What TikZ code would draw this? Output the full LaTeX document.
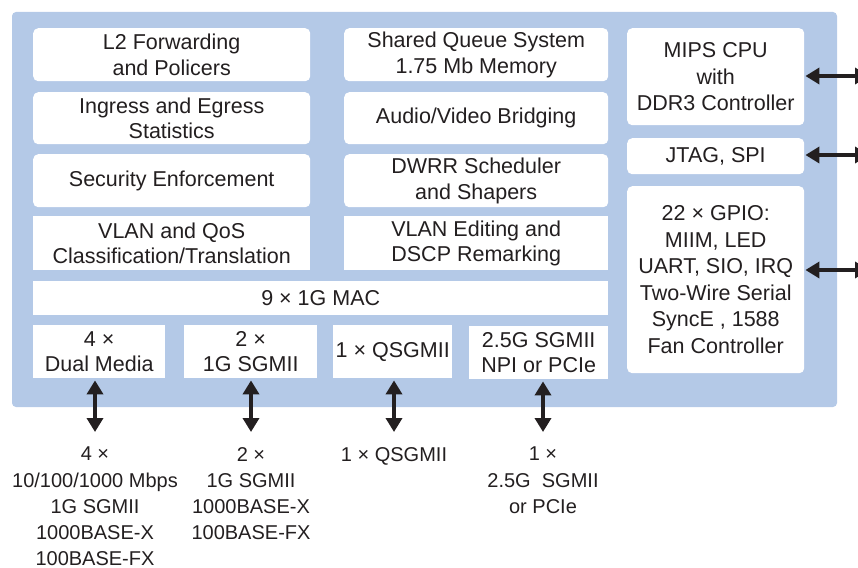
\documentclass[tikz,border=0pt]{standalone}
\usepackage{fontspec}
\setmainfont{Liberation Sans}
\usetikzlibrary{arrows.meta}
\definecolor{chipblue}{RGB}{180,201,231}
\definecolor{ink}{RGB}{35,31,32}
\begin{document}
\begin{tikzpicture}[x=1pt,y=-1pt,
  blk/.style={fill=white, inner sep=0pt, align=center, text=ink,
    font=\fontsize{21.5}{25.5}\selectfont, anchor=north west},
  rblk/.style={blk, rounded corners=5pt},
  cpublk/.style={rblk, font=\fontsize{21.5}{26.5}\selectfont},
  ext/.style={inner sep=0pt, align=center, text=ink,
    font=\fontsize{20}{26.2}\selectfont, anchor=north},
  bidir/.style={{Triangle[width=16pt,length=14pt]}-{Triangle[width=16pt,length=14pt]},
    line width=4.2pt, draw=ink}]
\useasboundingbox (0,0) rectangle (858,567);
\clip (0,0) rectangle (858,567);

% chip outline
\fill[chipblue, rounded corners=4pt] (12,12) rectangle (837,407);

% left column
\node[rblk, minimum width=277pt, minimum height=53pt] (l2)  at (33,28)  {L2 Forwarding\\and Policers};
\node[rblk, minimum width=277pt, minimum height=52pt] (ing) at (33,92)  {Ingress and Egress\\Statistics};
\node[rblk, minimum width=277pt, minimum height=53pt] (sec) at (33,154) {Security Enforcement};
\node[blk,  minimum width=277pt, minimum height=54pt] (vq)  at (33,216) {VLAN and QoS\\Classification/Translation};

% middle column
\node[rblk, minimum width=264pt, minimum height=53pt] (sq)  at (344,28)  {Shared Queue System\\1.75 Mb Memory};
\node[rblk, minimum width=264pt, minimum height=52pt] (avb) at (344,92)  {Audio/Video Bridging};
\node[rblk, minimum width=264pt, minimum height=53pt] (dw)  at (344,154) {DWRR Scheduler\\and Shapers};
\node[blk,  minimum width=264pt, minimum height=54pt] (ve)  at (344,216) {VLAN Editing and\\DSCP Remarking};

% MAC
\node[blk, minimum width=575pt, minimum height=34pt] (mac) at (33,281) {9 × 1G MAC};

% port blocks
\node[blk, minimum width=132pt, minimum height=53pt] (dm)  at (33,325)  {4 ×\\Dual Media};
\node[blk, minimum width=133pt, minimum height=53pt] (sg)  at (184,325) {2 ×\\1G SGMII};
\node[blk, minimum width=119pt, minimum height=53pt] (qs)  at (333,325) {1 × QSGMII};
\node[blk, minimum width=139pt, minimum height=53pt] (npi) at (469,326) {2.5G SGMII\\NPI or PCIe};

% right column
\node[cpublk, minimum width=177pt, minimum height=97pt]  (mips) at (627,28)  {MIPS CPU\\with\\DDR3 Controller};
\node[cpublk, minimum width=177pt, minimum height=36pt]  (jtag) at (627,138) {JTAG, SPI};
\node[cpublk, minimum width=177pt, minimum height=187pt] (gpio) at (627,186) {22 × GPIO:\\MIIM, LED\\UART, SIO, IRQ\\Two-Wire Serial\\SyncE , 1588\\Fan Controller};

% external interface labels
\node[ext] (dmt)  at (95,447)  {4 ×\\10/100/1000 Mbps\\1G SGMII\\1000BASE-X\\100BASE-FX};
\node[ext] (sgt)  at (251,447) {2 ×\\1G SGMII\\1000BASE-X\\100BASE-FX};
\node[ext] (qst)  at (394,447) {1 × QSGMII};
\node[ext] (npit) at (543,447) {1 ×\\2.5G\ \ SGMII\\or PCIe};

% bottom arrows
\draw[bidir, shorten <=2pt] (dm.south -| dmt.north)  -- ([yshift=15pt]dmt.north);
\draw[bidir, shorten <=2pt] (sg.south -| sgt.north)  -- ([yshift=15pt]sgt.north);
\draw[bidir, shorten <=2pt] (qs.south -| qst.north)  -- ([yshift=15pt]qst.north);
\draw[bidir, shorten <=2pt] (npi.south -| npit.north) -- ([yshift=15pt]npit.north);

% right arrows
\coordinate (mipsR) at (869,76);
\coordinate (jtagR) at (869,155);
\coordinate (gpioR) at (869,270);
\draw[bidir, shorten <=1pt] (mips.east |- mipsR) -- (mipsR);
\draw[bidir, shorten <=1pt] (jtag.east |- jtagR) -- (jtagR);
\draw[bidir, shorten <=1pt] (gpio.east |- gpioR) -- (gpioR);
\end{tikzpicture}
\end{document}
